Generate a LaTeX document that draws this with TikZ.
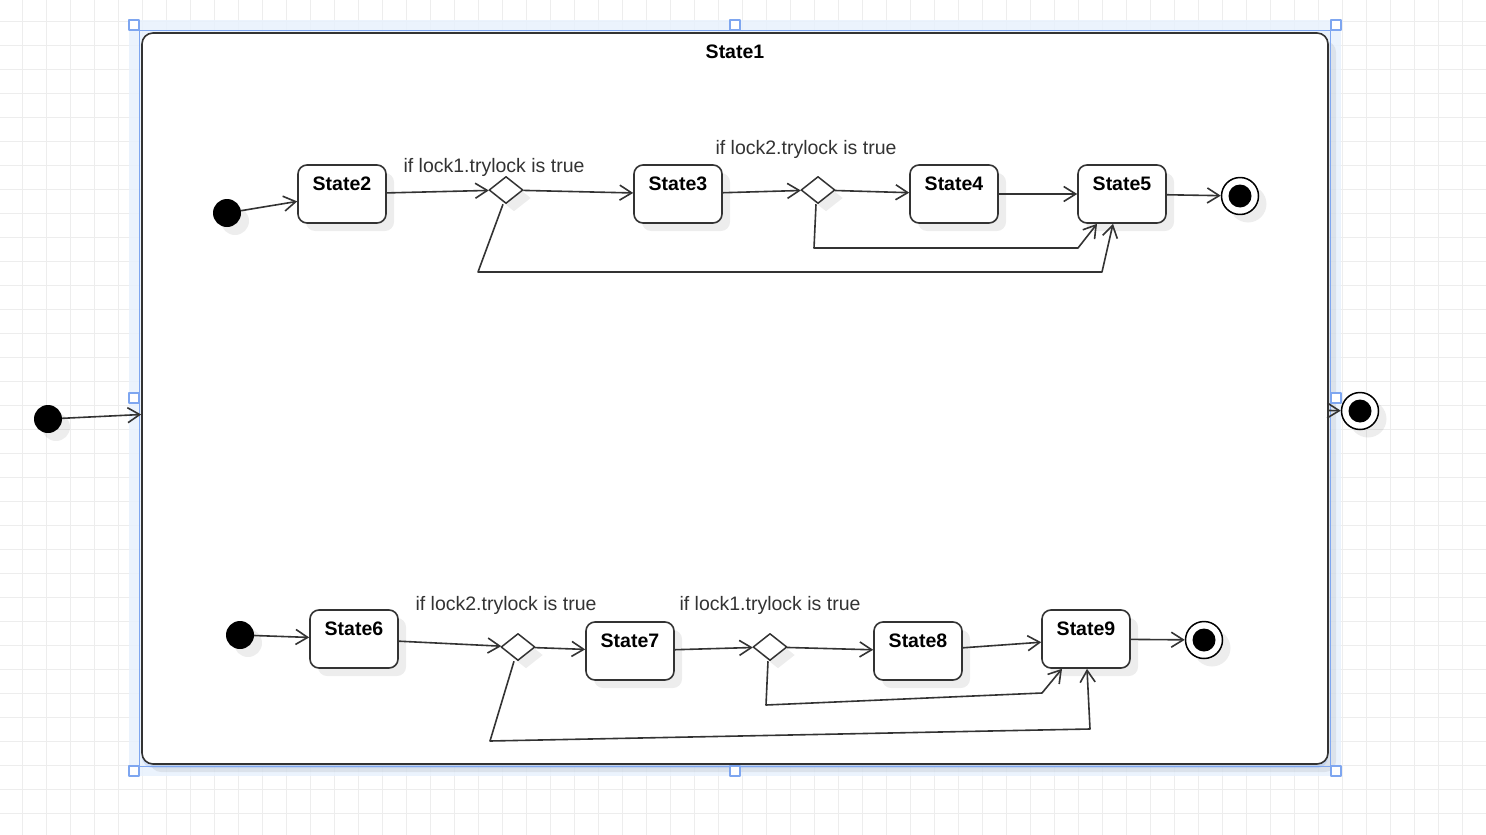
\documentclass[tikz,border=0pt]{standalone}
\usepackage{fontspec}
\setmainfont{Liberation Sans}
\usepackage{tikz}
\usetikzlibrary{arrows.meta,positioning,shapes.geometric,shadows}
\definecolor{linegray}{HTML}{333333}
\definecolor{gridgray}{HTML}{EDEDED}
\definecolor{selblue}{HTML}{7EA6F0}
\definecolor{bandblue}{HTML}{E8F1FD}

\begin{document}
\begin{tikzpicture}[x=1pt,y=-1pt,line join=round,
    every node/.style={font=\fontsize{19.5}{23}\selectfont,text=black},
    shade/.style={drop shadow={shadow xshift=8pt,shadow yshift=-8pt,fill=black,opacity=0.07}},
    state/.style={draw=linegray,line width=1.6pt,fill=white,rounded corners=9pt,shade,
                  minimum width=88pt,inner sep=4pt,text height=21pt,text depth=29pt,
                  font=\fontsize{19.5}{23}\selectfont\bfseries},
    choice/.style={diamond,draw=linegray,line width=1.5pt,fill=white,shade,
                   minimum width=34pt,minimum height=27pt,inner sep=0pt},
    start/.style={circle,fill=black,shade,minimum size=28pt,inner sep=0pt},
    stop/.style={circle,draw=black,line width=1.5pt,fill=white,shade,minimum size=37pt,inner sep=0pt,
                 path picture={\fill[black] (path picture bounding box.center) circle (11.5pt);}},
    flow/.style={draw=linegray,line width=1.6pt,-{Straight Barb[length=12pt,width=15pt]}},
    guard/.style={text=linegray},
    handle/.style={draw=selblue,line width=1.5pt,fill=white,minimum size=10pt,inner sep=0pt}]
  \useasboundingbox (0,0) rectangle (1486,835);
  % grid background
  \foreach \gx in {0,...,61} \draw[gridgray,line width=1pt] (22.7+24*\gx,0) -- (22.7+24*\gx,835);
  \foreach \gy in {0,...,34} \draw[gridgray,line width=1pt] (0,21.7+24*\gy) -- (1486,21.7+24*\gy);
  % selection band
  \fill[bandblue,opacity=0.85] (129,20) rectangle (1341,776);

  % composite state
  \node[state,minimum width=1186pt,text depth=702pt,rounded corners=11pt,
        drop shadow={shadow xshift=0pt,shadow yshift=-4pt,fill=selblue,opacity=0.25}]
       (state1) at (735,398.5) {State1};
  \draw[selblue,line width=1pt] (state1.south west) ++(-1.5,1.5) rectangle ([shift={(1.5pt,1.5pt)}]state1.north east);
  \foreach \hx/\hy in {134/25,735/25,1336/25,134/398,1336/398,134/771,735/771,1336/771}
    \node[handle] at (\hx,\hy) {};

  % outer initial and final
  \node[start] (i0) at (48,419) {};
  \node[stop]  (f0) at (1360,411) {};
  \draw[flow] (i0) -- ([yshift=-16pt]state1.west);
  \draw[flow] ([yshift=-12pt]state1.east) -- (f0);

  % upper region
  \node[start]  (i1) at (227,213) {};
  \node[state]  (s2) at (342,194) {State2};
  \node[choice] (d1) at (506,190) {};
  \node[state]  (s3) at (678,194) {State3};
  \node[choice] (d2) at (818,190) {};
  \node[state]  (s4) at (954,194) {State4};
  \node[state]  (s5) at (1122,194) {State5};
  \node[stop]   (f1) at (1240,196) {};
  \node[guard] at (494,167) {if lock1.trylock is true};
  \node[guard] at (806,149) {if lock2.trylock is true};
  \draw[flow] (i1) -- (s2);
  \draw[flow] (s2) -- (d1);
  \draw[flow] (d1) -- (s3);
  \draw[flow] (s3) -- (d2);
  \draw[flow] (d2) -- (s4);
  \draw[flow] (s4) -- (s5);
  \draw[flow] (s5) -- (f1);
  \draw[flow] ([xshift=-2pt]d2.south) -- (814,248) -- (1078,248) -- ([xshift=-25pt]s5.south);
  \draw[flow] ([xshift=-3pt]d1.south) -- (478,272) -- (1102,272) -- ([xshift=-9pt]s5.south);

  % lower region
  \node[start]  (i2) at (240,635) {};
  \node[state]  (s6) at (354,639) {State6};
  \node[choice] (d3) at (518,647) {};
  \node[state]  (s7) at (630,651) {State7};
  \node[choice] (d4) at (770,647) {};
  \node[state]  (s8) at (918,651) {State8};
  \node[state]  (s9) at (1086,639) {State9};
  \node[stop]   (f2) at (1204,640) {};
  \node[guard] at (506,605) {if lock2.trylock is true};
  \node[guard] at (770,605) {if lock1.trylock is true};
  \draw[flow] (i2) -- (s6);
  \draw[flow] (s6) -- (d3);
  \draw[flow] (d3) -- (s7);
  \draw[flow] (s7) -- (d4);
  \draw[flow] (d4) -- (s8);
  \draw[flow] (s8) -- (s9);
  \draw[flow] (s9) -- (f2);
  \draw[flow] ([xshift=-2pt]d4.south) -- (766,705) -- (1042,693) -- ([xshift=-24pt]s9.south);
  \draw[flow] ([xshift=-4pt]d3.south) -- (490,741) -- (1090,729) -- ([xshift=1pt]s9.south);
\end{tikzpicture}
\end{document}
